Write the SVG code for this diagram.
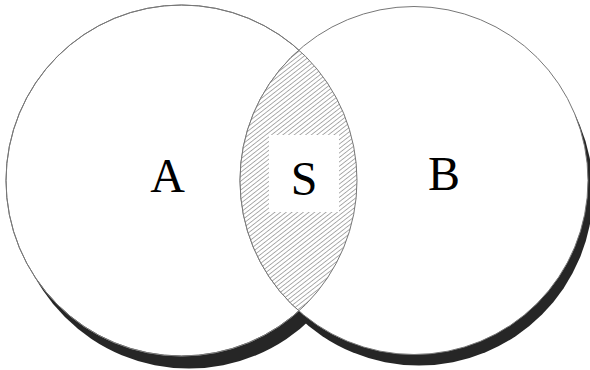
<svg xmlns="http://www.w3.org/2000/svg" width="590" height="370" viewBox="0 0 590 370">
<style>
.shadow{fill:#262626;stroke:none}
.set{fill:#fff;stroke:#777;stroke-width:1}
.lens{fill:url(#hatch);stroke:#777;stroke-width:1}
.lbl{font-family:"Liberation Serif","Times New Roman",serif;font-size:48px;fill:#000;text-anchor:middle}
</style>
<defs>
<pattern id="hatch" patternUnits="userSpaceOnUse" width="3.5" height="3.5" patternTransform="rotate(-38)">
<rect width="3.5" height="3.5" fill="#fff"/>
<line x1="0" y1="0" x2="3.5" y2="0" stroke="#7a7a7a" stroke-width="1.2"/>
</pattern>
<clipPath id="clipA"><circle cx="181.5" cy="180.5" r="175.5"/></clipPath>
</defs>
<rect width="590" height="370" fill="#fff"/>
<g id="shadows">
<circle class="shadow" cx="189" cy="193" r="175.5"/>
<circle class="shadow" cx="419" cy="191.5" r="174"/>
</g>
<g id="setA">
<circle class="set" cx="181.5" cy="180.5" r="175.5"/>
</g>
<g id="setB">
<circle class="set" cx="414" cy="180.5" r="174"/>
</g>
<g id="intersection">
<circle class="lens" cx="414" cy="180.5" r="174" clip-path="url(#clipA)"/>
<circle cx="181.5" cy="180.5" r="175.5" fill="none" stroke="#777" stroke-width="1"/>
<rect x="269" y="135" width="70" height="77" fill="#fff"/>
<text class="lbl" x="304" y="195">S</text>
</g>
<g id="labels">
<text class="lbl" x="167.5" y="192">A</text>
<text class="lbl" x="444" y="190">B</text>
</g>
</svg>
